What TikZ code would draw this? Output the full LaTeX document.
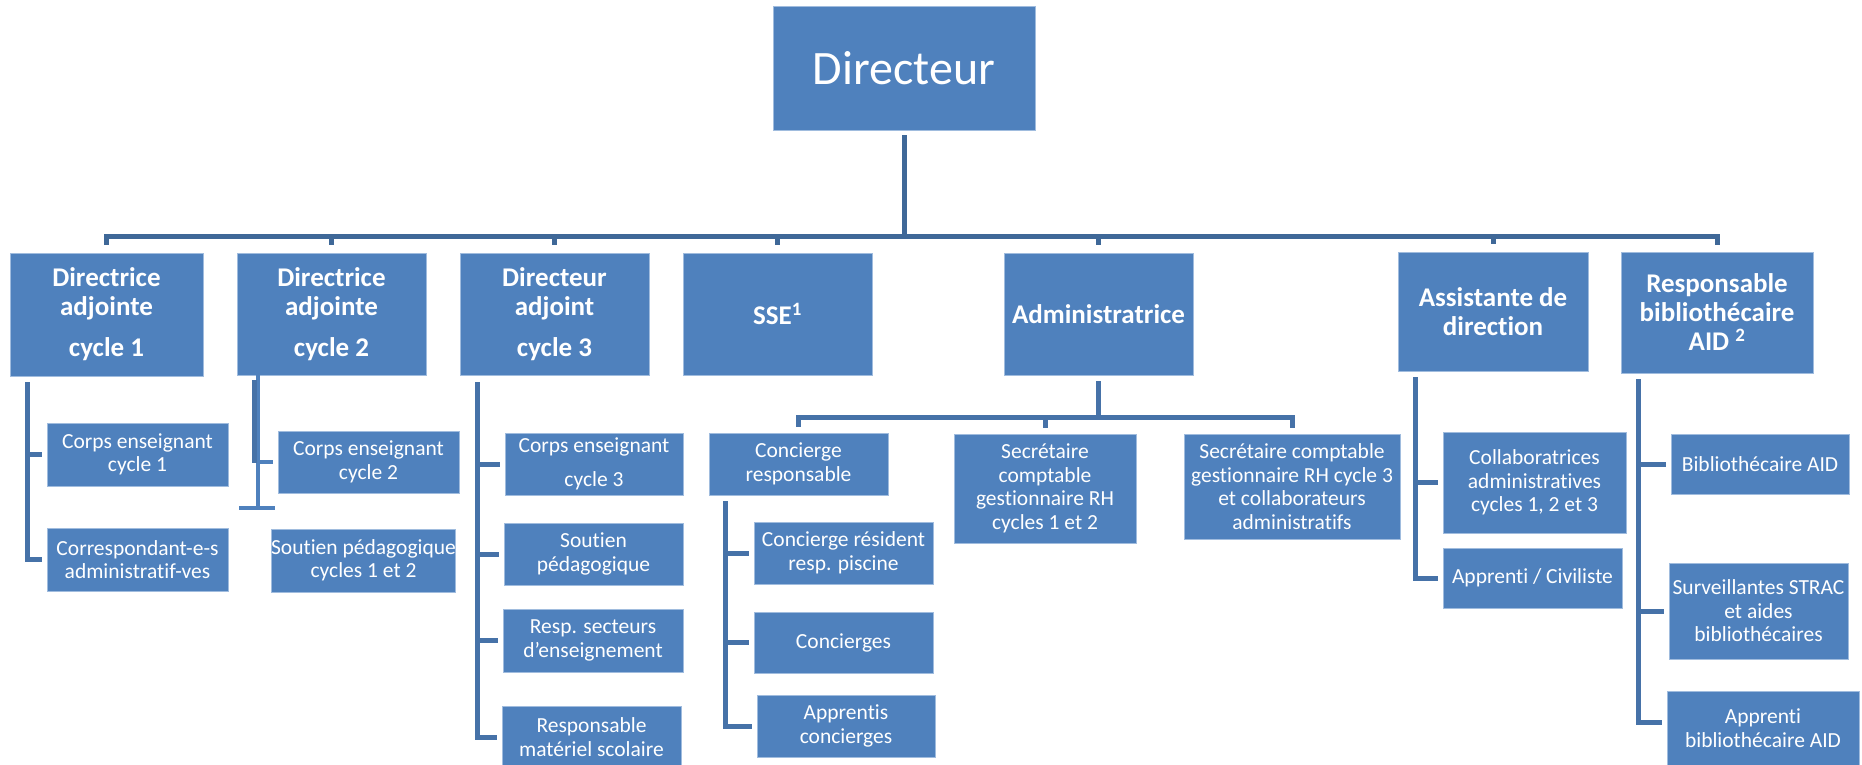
\documentclass[tikz,border=0pt]{standalone}
\usepackage{fontspec}
\setmainfont{Carlito}[Ligatures=NoCommon]
\definecolor{boxblue}{RGB}{79,129,189}
\definecolor{boxedge}{RGB}{160,188,222}
\definecolor{busblue}{RGB}{63,104,152}
\definecolor{subblue}{RGB}{70,114,168}
\tikzset{
  orgbox/.style={rectangle, fill=boxblue, draw=boxedge, line width=0.8pt, text=white, align=center, inner sep=0pt},
  topbox/.style={orgbox, font=\fontsize{48}{52}\selectfont},
  headbox/.style={orgbox, font=\bfseries\fontsize{27}{29}\selectfont},
  leafbox/.style={orgbox, font=\fontsize{21.5}{23.5}\selectfont},
  busline/.style={draw=busblue, line width=5pt},
  subline/.style={draw=subblue, line width=5pt},
  lightline/.style={draw=boxblue, line width=4.5pt},
}
\begin{document}
\begin{tikzpicture}[x=1pt,y=-1pt]
\useasboundingbox (0,0) rectangle (1862,765);
% top
\node[topbox, minimum width=262pt, minimum height=124pt] (dir) at (904,68) {Directeur};
% level 2
\node[headbox, minimum width=193pt, minimum height=123pt] (a1) at (106.5,314.5) {Directrice\\adjointe\\[12pt]cycle 1};
\node[headbox, minimum width=189pt, minimum height=122pt] (a2) at (331.5,314) {Directrice\\adjointe\\[12pt]cycle 2};
\node[headbox, minimum width=189pt, minimum height=122pt] (a3) at (554.5,314) {Directeur\\adjoint\\[12pt]cycle 3};
\node[headbox, minimum width=189pt, minimum height=122pt] (sse) at (777.5,314) {SSE\textsuperscript{1}};
\node[headbox, minimum width=189pt, minimum height=122pt] (adm) at (1098.5,314) {Administratrice};
\node[headbox, minimum width=190pt, minimum height=119pt] (ast) at (1493,311.5) {Assistante de\\direction};
\node[headbox, minimum width=192pt, minimum height=121pt] (bib) at (1717,312.5) {Responsable\\bibliothécaire\\AID \textsuperscript{2}};
% level 3
\node[leafbox, minimum width=181pt, minimum height=63pt] (c1a) at (137.5,454.5) {Corps enseignant\\cycle 1};
\node[leafbox, minimum width=181pt, minimum height=63pt] (c1b) at (137.5,559.5) {Correspondant-e-s\\administratif-ves};
\node[leafbox, minimum width=181pt, minimum height=62pt] (c2a) at (368.5,462) {Corps enseignant\\cycle 2};
\node[leafbox, minimum width=181pt, minimum height=63pt] (c2b) at (363.5,560.5) {Soutien pédagogique\\cycles 1 et 2};
\node[leafbox, minimum width=178pt, minimum height=62pt] (c3a) at (594,464) {Corps enseignant\\[10pt]cycle 3};
\node[leafbox, minimum width=179pt, minimum height=62pt] (c3b) at (593.5,554) {Soutien\\pédagogique};
\node[leafbox, minimum width=180pt, minimum height=63pt] (c3c) at (593,640.5) {Resp. secteurs\\d’enseignement};
\node[leafbox, minimum width=179pt, minimum height=62pt] (c3d) at (591.5,737) {Responsable\\matériel scolaire};
\node[leafbox, minimum width=179pt, minimum height=62pt] (cr) at (798.5,464) {Concierge\\responsable};
\node[leafbox, minimum width=179pt, minimum height=62pt] (cra) at (843.5,553) {Concierge résident\\resp. piscine};
\node[leafbox, minimum width=179pt, minimum height=61pt] (crb) at (843.5,642.5) {Concierges};
\node[leafbox, minimum width=178pt, minimum height=62pt] (crc) at (846,726) {Apprentis\\concierges};
\node[leafbox, minimum width=182pt, minimum height=109pt] (s1) at (1045,488.5) {Secrétaire\\comptable\\gestionnaire RH\\cycles 1 et 2};
\node[leafbox, minimum width=216pt, minimum height=105pt] (s2) at (1292,486.5) {Secrétaire comptable\\gestionnaire RH cycle 3\\et collaborateurs\\administratifs};
\node[leafbox, minimum width=183pt, minimum height=101pt] (as1) at (1534.5,482.5) {Collaboratrices\\administratives\\cycles 1, 2 et 3};
\node[leafbox, minimum width=179pt, minimum height=60pt] (as2) at (1532.5,578) {Apprenti / Civiliste};
\node[leafbox, minimum width=178pt, minimum height=60pt] (b1) at (1760,464) {Bibliothécaire AID};
\node[leafbox, minimum width=179pt, minimum height=96pt] (b2) at (1758.5,611) {Surveillantes STRAC\\et aides\\bibliothécaires};
\node[leafbox, minimum width=192pt, minimum height=74pt] (b3) at (1763,728) {Apprenti\\bibliothécaire AID};
% main bus
\coordinate (bus) at (0,236);
\draw[busline] ([yshift=-5pt]dir.south) -- (dir.south |- bus);
\draw[busline] ([yshift=8pt]a1.north) -- (a1.north |- bus) -- (bib.north |- bus) -- ([yshift=7pt]bib.north);
\foreach \n in {a2,a3,sse,adm,ast} \draw[busline] ([yshift=8pt]\n.north) -- (\n.north |- bus);
% cycle 1
\coordinate (v1) at (27,382);
\draw[subline] (v1) |- ([xshift=-5pt]c1b.west);
\draw[subline] (v1 |- c1a.west) -- ([xshift=-5pt]c1a.west);
% cycle 2 (as drawn)
\coordinate (v2t) at (258,347);
\coordinate (v2b) at (258,508);
\coordinate (v2s) at (254,380);
\coordinate (v2e) at (254,463);
\draw[lightline] (v2t) -- (v2b);
\draw[lightline] ([xshift=-19pt]v2b) -- ([xshift=17pt]v2b);
\draw[subline] (v2s) -- (v2e);
\draw[lightline] (v2t |- c2a.west) -- ([xshift=-5pt]c2a.west);
% cycle 3
\coordinate (v3) at (477,382);
\draw[subline] (v3) |- ([xshift=-5pt]c3d.west);
\foreach \n in {c3a,c3b,c3c} \draw[subline] (v3 |- \n.west) -- ([xshift=-5pt]\n.west);
% administratrice
\coordinate (adb) at (0,417);
\draw[subline] ([yshift=-6pt]adm.south) -- (adm.south |- adb);
\draw[subline] ([yshift=6pt]cr.north) -- (cr.north |- adb) -- (s2.north |- adb) -- ([yshift=6pt]s2.north);
\draw[subline] (s1.north |- adb) -- ([yshift=6pt]s1.north);
% concierge responsable
\coordinate (vc) at (725,501);
\draw[subline] (vc) |- ([xshift=-5pt]crc.west);
\foreach \n in {cra,crb} \draw[subline] (vc |- \n.west) -- ([xshift=-5pt]\n.west);
% assistante
\coordinate (va) at (1415,377);
\draw[subline] (va) |- ([xshift=-5pt]as2.west);
\draw[subline] (va |- as1.west) -- ([xshift=-5pt]as1.west);
% bibliothecaire
\coordinate (vb) at (1638,379);
\draw[subline] (vb) |- ([xshift=-5pt,yshift=6pt]b3.west);
\foreach \n in {b1,b2} \draw[subline] (vb |- \n.west) -- ([xshift=-5pt]\n.west);
\end{tikzpicture}
\end{document}
